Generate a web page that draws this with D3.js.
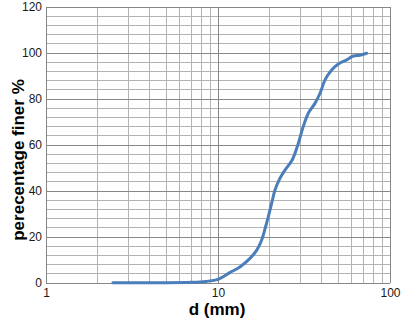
<!DOCTYPE html>
<html>
<head>
<meta charset="utf-8">
<script src="https://cdn.jsdelivr.net/npm/d3@7"></script>
<style>
  body { margin: 0; background: #fff; }
  text { font-family: "Liberation Sans", Arial, sans-serif; }
</style>
</head>
<body>
<div id="chart"></div>
<script>
// grain size distribution
const diameters = [2.45, 4.0, 5.0, 7.0, 8.5, 10, 11.7, 13.4, 15.35, 16.8, 17.95, 18.8, 19.6, 20.5, 21.45,
  22.9, 24.5, 27.0, 29.3, 31.3, 33.5, 36.6, 39.2, 41.9, 45.8, 50.1, 56.0, 61.2, 66.9, 73.2];
const percentFiner = [0.1, 0.1, 0.1, 0.3, 0.7, 1.6, 4.5, 7.0, 10.7, 14.3, 18.7, 23.8, 28.8, 34.6, 40.4,
  45.5, 49.1, 53.5, 60.7, 68.0, 73.8, 78.1, 82.5, 88.3, 92.6, 95.2, 97.0, 98.7, 99.0, 99.9];
const xTicks = [1, 10, 100];
const yTicks = [0, 20, 40, 60, 80, 100, 120];

const width = 417, height = 329;
const margin = { top: 7, right: 27, bottom: 46, left: 46 };

const svg = d3.select('#chart').append('svg')
  .attr('width', width)
  .attr('height', height);

const x = d3.scaleLog().domain([1, 100]).range([margin.left, width - margin.right]);
const y = d3.scaleLinear().domain([0, 120]).range([height - margin.bottom, margin.top]);

// minor grid
const minorX = [];
[1, 10].forEach(dec => { for (let k = 2; k <= 9; k++) minorX.push(dec * k); });
const minorY = d3.range(0, 121, 4).filter(v => v % 20 !== 0);

svg.append('g').selectAll('line').data(minorX).join('line')
  .attr('x1', d => x(d)).attr('x2', d => x(d))
  .attr('y1', y(0)).attr('y2', y(120))
  .attr('stroke', '#b3b3b3').attr('stroke-width', 1)
  .attr('shape-rendering', 'crispEdges');

svg.append('g').selectAll('line').data(minorY).join('line')
  .attr('x1', x(1)).attr('x2', x(100))
  .attr('y1', d => y(d)).attr('y2', d => y(d))
  .attr('stroke', '#b3b3b3').attr('stroke-width', 1)
  .attr('shape-rendering', 'crispEdges');

// major grid
svg.append('g').selectAll('line').data(xTicks).join('line')
  .attr('x1', d => x(d)).attr('x2', d => x(d))
  .attr('y1', y(0)).attr('y2', y(120))
  .attr('stroke', '#878787').attr('stroke-width', 1)
  .attr('shape-rendering', 'crispEdges');

svg.append('g').selectAll('line').data(yTicks).join('line')
  .attr('x1', x(1)).attr('x2', x(100))
  .attr('y1', d => y(d)).attr('y2', d => y(d))
  .attr('stroke', '#878787').attr('stroke-width', 1)
  .attr('shape-rendering', 'crispEdges');

// axes (labels only)
const yAxis = svg.append('g')
  .attr('transform', `translate(${x(1)},0)`)
  .call(d3.axisLeft(y).tickValues(yTicks).tickSize(0).tickPadding(4));
yAxis.select('.domain').remove();
yAxis.selectAll('text').attr('font-size', 12).attr('fill', '#1a1a1a')
  .style('font-family', '"Liberation Sans", Arial, sans-serif');

const xAxis = svg.append('g')
  .attr('transform', `translate(0,${y(0)})`)
  .call(d3.axisBottom(x).tickValues(xTicks).tickFormat(d3.format('d')).tickSize(0).tickPadding(5));
xAxis.select('.domain').remove();
xAxis.selectAll('text').attr('font-size', 12).attr('fill', '#1a1a1a')
  .style('font-family', '"Liberation Sans", Arial, sans-serif');

// curve
const points = diameters.map((d, i) => [d, percentFiner[i]]);
const line = d3.line()
  .x(d => x(d[0]))
  .y(d => y(d[1]))
  .curve(d3.curveCatmullRom.alpha(0.5));

svg.append('path')
  .datum(points)
  .attr('d', line)
  .attr('fill', 'none')
  .attr('stroke', '#4a7ebb')
  .attr('stroke-width', 3)
  .attr('stroke-linejoin', 'round')
  .attr('stroke-linecap', 'round');

// axis titles
svg.append('text')
  .attr('x', 217)
  .attr('y', 315)
  .attr('text-anchor', 'middle')
  .attr('font-size', 17)
  .attr('font-weight', 'bold')
  .text('d (mm)');

svg.append('text')
  .attr('transform', 'translate(24,160) rotate(-90)')
  .attr('text-anchor', 'middle')
  .attr('font-size', 17)
  .attr('font-weight', 'bold')
  .text('perecentage finer %');
</script>
</body>
</html>
